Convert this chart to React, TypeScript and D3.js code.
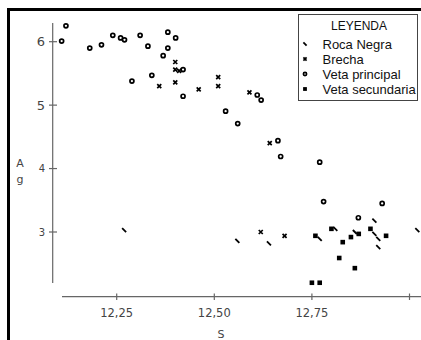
import React, { useEffect, useRef } from 'react';
import * as d3 from 'd3';

// [S, Ag] pairs
const rocaNegra: [number, number][] = [
  [12.269, 3.03], [12.559, 2.86], [12.64, 2.82], [12.77, 2.89], [12.81, 3.05],
  [12.86, 3.0], [12.91, 3.18], [12.91, 2.97], [12.92, 2.89], [12.92, 2.76], [13.02, 3.03],
];
const brecha: [number, number][] = [
  [12.359, 5.3], [12.4, 5.36], [12.4, 5.68], [12.4, 5.56], [12.41, 5.54], [12.46, 5.25],
  [12.51, 5.44], [12.51, 5.3], [12.59, 5.2], [12.642, 4.4], [12.619, 3.0], [12.68, 2.94],
];
const vetaPrincipal: [number, number][] = [
  [12.12, 6.25], [12.109, 6.01], [12.181, 5.9], [12.211, 5.95], [12.24, 6.1], [12.26, 6.06],
  [12.27, 6.03], [12.31, 6.1], [12.33, 5.93], [12.289, 5.38], [12.34, 5.47], [12.381, 6.15],
  [12.401, 6.06], [12.381, 5.9], [12.369, 5.78], [12.42, 5.56], [12.42, 5.14], [12.61, 5.16],
  [12.62, 5.08], [12.529, 4.905], [12.56, 4.71], [12.663, 4.44], [12.67, 4.19], [12.77, 4.1],
  [12.78, 3.48], [12.93, 3.45], [12.869, 3.225],
];
const vetaSecundaria: [number, number][] = [
  [12.759, 2.94], [12.8, 3.05], [12.829, 2.84], [12.85, 2.92], [12.87, 2.97], [12.9, 3.05],
  [12.94, 2.94], [12.82, 2.59], [12.86, 2.43], [12.75, 2.2], [12.77, 2.2],
];

const xTicks = [12.25, 12.5, 12.75, 13];
const xLabels = ['12,25', '12,50', '12,75', '']; // last tick sits at the edge, no label shown
const yTicks = [3, 4, 5, 6];
const legendItems = ['Roca Negra', 'Brecha', 'Veta principal', 'Veta secundaria'];

const App = () => {
  const svgRef = useRef<SVGSVGElement>(null);

  useEffect(() => {
    const width = 421;
    const height = 340;
    const svg = d3.select(svgRef.current);
    svg.selectAll('*').remove();
    svg.attr('width', width).attr('height', height);

    const x = d3.scaleLinear().domain([12.25, 13]).range([116.7, 409.5]);
    const y = d3.scaleLinear().domain([3, 6]).range([232, 41.7]);
    const axisColor = '#666';
    const labelColor = '#444';

    // frame
    svg.append('rect')
      .attr('x', 8.5).attr('y', 9.5)
      .attr('width', 430).attr('height', 345)
      .attr('fill', 'white').attr('stroke', 'black').attr('stroke-width', 3);

    // y axis
    svg.append('line')
      .attr('x1', 52.7).attr('x2', 52.7).attr('y1', 23).attr('y2', 283)
      .attr('stroke', axisColor).attr('stroke-width', 1.2);
    yTicks.forEach(t => {
      svg.append('line')
        .attr('x1', 49).attr('x2', 57).attr('y1', y(t)).attr('y2', y(t))
        .attr('stroke', axisColor).attr('stroke-width', 1.2);
      const fs = t >= 5 ? 13 : 10;
      svg.append('text')
        .attr('x', 45).attr('y', y(t) + fs * 0.36)
        .attr('text-anchor', 'end')
        .attr('font-family', 'DejaVu Sans').attr('font-size', fs)
        .attr('fill', labelColor)
        .text(String(t));
    });

    // x axis
    svg.append('line')
      .attr('x1', 62).attr('x2', width).attr('y1', 296.7).attr('y2', 296.7)
      .attr('stroke', axisColor).attr('stroke-width', 1.2);
    xTicks.forEach((t, i) => {
      svg.append('line')
        .attr('x1', x(t)).attr('x2', x(t)).attr('y1', 293.5).attr('y2', 300)
        .attr('stroke', axisColor).attr('stroke-width', 1.2);
      if (!xLabels[i]) return;
      svg.append('text')
        .attr('x', x(t)).attr('y', 317)
        .attr('text-anchor', 'middle')
        .attr('font-family', 'DejaVu Sans').attr('font-size', 11.5)
        .attr('fill', labelColor)
        .text(xLabels[i]);
    });

    // axis titles
    svg.append('text').attr('x', 221).attr('y', 338).attr('text-anchor', 'middle')
      .attr('font-family', 'DejaVu Sans').attr('font-size', 11).attr('fill', labelColor).text('S');
    svg.append('text').attr('x', 20).attr('y', 167).attr('text-anchor', 'middle')
      .attr('font-family', 'DejaVu Sans').attr('font-size', 11).attr('fill', labelColor).text('A');
    svg.append('text').attr('x', 20).attr('y', 183).attr('text-anchor', 'middle')
      .attr('font-family', 'DejaVu Sans').attr('font-size', 11).attr('fill', labelColor).text('g');

    // marker drawers
    const drawSlash = (g: any, cx: number, cy: number, s = 2) => {
      g.append('line').attr('x1', cx - s).attr('y1', cy - s).attr('x2', cx + s).attr('y2', cy + s)
        .attr('stroke', 'black').attr('stroke-width', 1.8);
    };
    const drawCross = (g: any, cx: number, cy: number, s = 2) => {
      g.append('path')
        .attr('d', `M${cx - s},${cy - s}L${cx + s},${cy + s}M${cx - s},${cy + s}L${cx + s},${cy - s}`)
        .attr('stroke', 'black').attr('stroke-width', 1.7);
    };
    const drawCircle = (g: any, cx: number, cy: number, s = 2) => {
      g.append('circle').attr('cx', cx).attr('cy', cy).attr('r', s)
        .attr('fill', 'white').attr('stroke', 'black').attr('stroke-width', 1.7);
    };
    const drawSquare = (g: any, cx: number, cy: number, s = 2) => {
      g.append('rect').attr('x', cx - s - 0.3).attr('y', cy - s - 0.3)
        .attr('width', 2 * s + 0.6).attr('height', 2 * s + 0.6)
        .attr('fill', 'black');
    };

    const marks = svg.append('g');
    vetaSecundaria.forEach(d => drawSquare(marks, x(d[0]), y(d[1])));
    vetaPrincipal.forEach(d => drawCircle(marks, x(d[0]), y(d[1])));
    brecha.forEach(d => drawCross(marks, x(d[0]), y(d[1])));
    rocaNegra.forEach(d => drawSlash(marks, x(d[0]), y(d[1])));

    // legend
    const lg = svg.append('g');
    lg.append('rect')
      .attr('x', 298.5).attr('y', 14.5).attr('width', 119).attr('height', 86)
      .attr('fill', 'white').attr('stroke', '#444').attr('stroke-width', 1);
    lg.append('text').attr('x', 359).attr('y', 30).attr('text-anchor', 'middle')
      .attr('font-family', 'Liberation Sans').attr('font-size', 12).attr('fill', '#111')
      .text('LEYENDA');
    const drawers = [drawSlash, drawCross, drawCircle, drawSquare];
    legendItems.forEach((name, i) => {
      const ly = 44 + i * 15;
      drawers[i](lg, 305, ly, 1.6);
      lg.append('text').attr('x', 322.5).attr('y', ly + 4.5)
        .attr('font-family', 'Liberation Sans').attr('font-size', 13).attr('fill', '#111')
        .text(name);
    });
  }, []);

  return (
    <div style={{ position: 'fixed', left: 0, top: 0 }}>
      <svg ref={svgRef} style={{ display: 'block' }}></svg>
    </div>
  );
};

export default App;
